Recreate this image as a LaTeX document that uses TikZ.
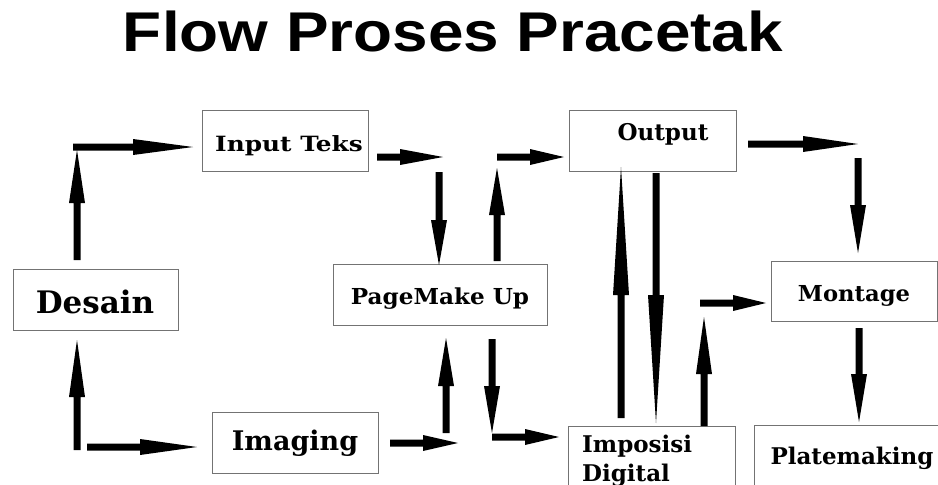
\documentclass[tikz,border=0pt]{standalone}
\usepackage{fontspec}
\setmainfont{DejaVu Serif}
\newfontfamily\titlefont{Liberation Sans}
\usetikzlibrary{calc}
\tikzset{
  box/.style={draw=black!55, line width=0.9pt, fill=white, inner sep=0pt},
  lbl/.style={font=\bfseries\fontsize{#1}{#1}\selectfont, inner sep=0pt, anchor=base},
  fat/.style={fill=black},
}
% fat arrow from coordinate #1 to coordinate #2, head length #3 (pt)
\newcommand\fatarrow[3]{%
  \path let \p1=(#1), \p2=(#2) in \pgfextra{%
    \pgfmathsetmacro\faL{veclen(\x2-\x1,\y2-\y1)}\xdef\faL{\faL}%
    \pgfmathsetmacro\faA{atan2(\y2-\y1,\x2-\x1)}\xdef\faA{\faA}%
    \xdef\faX{\x1}\xdef\faY{\y1}};
  \fill[fat, shift={(\faX,\faY)}, rotate=\faA]
    (0pt,-3.5pt) -- ({(\faL-#3)*1pt},-3.5pt) -- ({(\faL-#3)*1pt},-8pt)
    -- ({\faL*1pt},0pt) -- ({(\faL-#3)*1pt},8pt) -- ({(\faL-#3)*1pt},3.5pt)
    -- (0pt,3.5pt) -- cycle;
}
\begin{document}
\begin{tikzpicture}[x=1pt,y=-1pt]
\useasboundingbox (0,0) rectangle (938,485);
\clip (0,0) rectangle (938,485);
\fill[white] (0,0) rectangle (938,485);
% title
\node[font=\titlefont\bfseries\fontsize{56}{56}\selectfont, inner sep=0pt] (title) at (453,31) {\scalebox{1.14}[1]{Flow Proses Pracetak}};
% boxes
\draw[box] (13,269) rectangle (178,330);
\node[lbl=31] (desain) at (95,313) {Desain};
\draw[box] (202,110) rectangle (368,171);
\node[lbl=21] (input) at (289,151) {\scalebox{1.18}[1]{Input Teks}};
\draw[box] (333,264) rectangle (547,325);
\node[lbl=22] (page) at (440,304) {\scalebox{1.05}[1]{PageMake Up}};
\draw[box] (569,110) rectangle (736,171);
\node[lbl=23] (output) at (663,140) {Output};
\draw[box] (771,261) rectangle (937,321);
\node[lbl=22] (montage) at (854,301) {\scalebox{1.03}[1]{Montage}};
\draw[box] (212,412) rectangle (378,473);
\node[lbl=27] (imaging) at (295,450) {Imaging};
\draw[box] (568,426) rectangle (735,500);
\node[lbl=23, anchor=base west] (impo1) at (582,452) {Imposisi};
\node[lbl=23, anchor=base west] (impo2) at (582,481) {Digital};
\draw[box] (754,425) rectangle (950,500);
\node[lbl=23] (plate) at (852,464) {Platemaking};
% connector end points
\coordinate (a1s) at (77,260);  \coordinate (a1e) at (77,150);
\coordinate (a2s) at (73,147);  \coordinate (a2e) at (193,147);
\coordinate (a3s) at (377,157); \coordinate (a3e) at (443,157);
\coordinate (a4s) at (439,172); \coordinate (a4e) at (439,265);
\coordinate (a5s) at (497,261); \coordinate (a5e) at (497,168);
\coordinate (a6s) at (497,157); \coordinate (a6e) at (564,157);
\coordinate (a7s) at (748,144); \coordinate (a7e) at (858,144);
\coordinate (a8s) at (858,158); \coordinate (a8e) at (858,253);
\coordinate (a9s) at (621,418); \coordinate (a9e) at (621,167);
\coordinate (a10s) at (656,173); \coordinate (a10e) at (656,423);
\coordinate (a11s) at (704,426); \coordinate (a11e) at (704,317);
\coordinate (a12s) at (700,303); \coordinate (a12e) at (766,303);
\coordinate (a13s) at (859,328); \coordinate (a13e) at (859,422);
\coordinate (a14s) at (492,339); \coordinate (a14e) at (492,433);
\coordinate (a15s) at (492,437); \coordinate (a15e) at (559,437);
\coordinate (a16s) at (77,450); \coordinate (a16e) at (77,340);
\coordinate (a17s) at (87,447); \coordinate (a17e) at (197,447);
\coordinate (a18s) at (390,443); \coordinate (a18e) at (458,443);
\coordinate (a19s) at (446,433); \coordinate (a19e) at (446,338);
% arrows
\fatarrow{a1s}{a1e}{53}
\fatarrow{a2s}{a2e}{60}
\fatarrow{a3s}{a3e}{43}
\fatarrow{a4s}{a4e}{45}
\fatarrow{a5s}{a5e}{47}
\fatarrow{a6s}{a6e}{34}
\fatarrow{a7s}{a7e}{55}
\fatarrow{a8s}{a8e}{48}
\fatarrow{a9s}{a9e}{128}
\fatarrow{a10s}{a10e}{128}
\fatarrow{a11s}{a11e}{57}
\fatarrow{a12s}{a12e}{33}
\fatarrow{a13s}{a13e}{48}
\fatarrow{a14s}{a14e}{47}
\fatarrow{a15s}{a15e}{34}
\fatarrow{a16s}{a16e}{57}
\fatarrow{a17s}{a17e}{57}
\fatarrow{a18s}{a18e}{35}
\fatarrow{a19s}{a19e}{48}
\end{tikzpicture}
\end{document}
